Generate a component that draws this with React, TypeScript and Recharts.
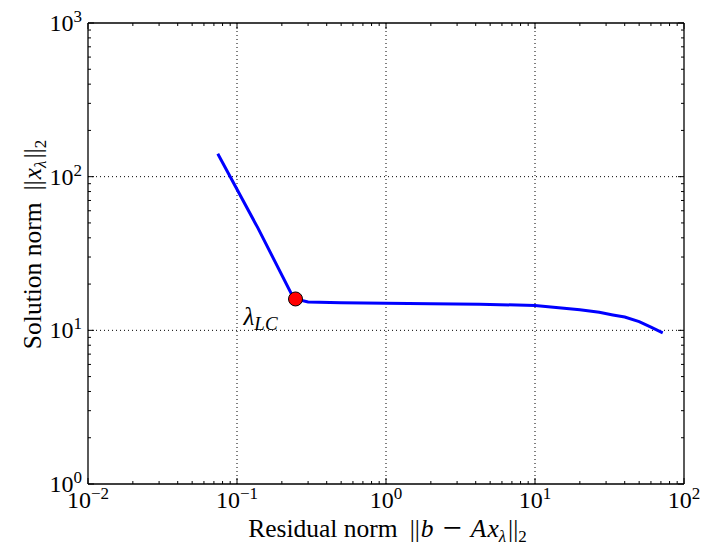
import React from "react";
import { LineChart, Line, XAxis, YAxis, ReferenceLine, ReferenceDot } from "recharts";

const residualNorm = [0.0743, 0.138, 0.231, 0.247, 0.3, 0.5, 1, 2, 4.25, 10, 20, 27, 33.3, 40, 50, 60, 72];
const solutionNorm = [141, 46.4, 17.4, 16.0, 15.3, 15.1, 15.0, 14.9, 14.8, 14.5, 13.6, 13.1, 12.6, 12.2, 11.4, 10.5, 9.64];
const cornerPoint = { r: 0.247, s: 16.0 };

const majorX = [0.01, 0.1, 1, 10, 100];
const majorY = [1, 10, 100, 1000];
const xExp = ["−2", "−1", "0", "1", "2"];
const yExp = ["0", "1", "2", "3"];

const minorMult = [2, 3, 4, 5, 6, 7, 8, 9];
const buildTicks = (majors: number[]) => {
  const out: number[] = [];
  majors.forEach((m, i) => {
    out.push(m);
    if (i < majors.length - 1) minorMult.forEach((k) => out.push(m * k));
  });
  return out;
};
const xTicks = buildTicks(majorX);
const yTicks = buildTicks(majorY);

const data = residualNorm.map((r, i) => ({ r, s: solutionNorm[i] }));

const FONT = "'Liberation Serif', 'Times New Roman', serif";

const isMajor = (v: number) => Math.abs(Math.log10(v) - Math.round(Math.log10(v))) < 1e-6;
const majorIndex = (v: number, majors: number[]) =>
  majors.findIndex((m) => Math.abs(Math.log10(m) - Math.log10(v)) < 1e-6);

const BottomTick = (props: any) => {
  const { x, y, payload } = props;
  const v = payload.value;
  const major = isMajor(v);
  const len = major ? 6 : 3;
  const idx = majorIndex(v, majorX);
  return (
    <g>
      <line x1={x} y1={y} x2={x} y2={y - len} stroke="#000" strokeWidth={1} />
      {major && idx >= 0 && (
        <text x={x} y={y + 24} textAnchor="middle" fontFamily={FONT} fontSize={24} fill="#000">
          <tspan>10</tspan>
          <tspan dy={-9} fontSize={17}>{xExp[idx]}</tspan>
        </text>
      )}
    </g>
  );
};

const TopTick = (props: any) => {
  const { x, y, payload } = props;
  const len = isMajor(payload.value) ? 6 : 3;
  return <line x1={x} y1={y} x2={x} y2={y + len} stroke="#000" strokeWidth={1} />;
};

const LeftTick = (props: any) => {
  const { x, y, payload } = props;
  const v = payload.value;
  const major = isMajor(v);
  const len = major ? 6 : 3;
  const idx = majorIndex(v, majorY);
  return (
    <g>
      <line x1={x} y1={y} x2={x + len} y2={y} stroke="#000" strokeWidth={1} />
      {major && idx >= 0 && (
        <text x={x - 6} y={y + 8} textAnchor="end" fontFamily={FONT} fontSize={24} fill="#000">
          <tspan>10</tspan>
          <tspan dy={-9} fontSize={17}>{yExp[idx]}</tspan>
        </text>
      )}
    </g>
  );
};

const RightTick = (props: any) => {
  const { x, y, payload } = props;
  const len = isMajor(payload.value) ? 6 : 3;
  return <line x1={x} y1={y} x2={x - len} y2={y} stroke="#000" strokeWidth={1} />;
};

const XTitle = (props: any) => {
  const vb = props.viewBox || { x: 88, y: 484, width: 596, height: 63 };
  const cx = vb.x + vb.width / 2 + 1.5;
  return (
    <text x={cx} y={vb.y + 53} textAnchor="middle" fontFamily={FONT} fontSize={25.5} fill="#000">
      <tspan>Residual norm</tspan>
      <tspan dx={12}>||</tspan>
      <tspan dx={1} fontStyle="italic">b</tspan>
      <tspan dx={9} dy={2} fontSize={34}>−</tspan>
      <tspan dx={9} dy={-2} fontStyle="italic">A</tspan>
      <tspan dx={1} fontStyle="italic">x</tspan>
      <tspan fontStyle="italic" fontSize={17} dy={5}>λ</tspan>
      <tspan dx={2} dy={-5}>||</tspan>
      <tspan fontSize={17} dy={5}>2</tspan>
    </text>
  );
};

const YTitle = (props: any) => {
  const vb = props.viewBox || { x: 0, y: 23, width: 88, height: 461 };
  const cy = vb.y + vb.height / 2 - 9;
  const bx = 41;
  return (
    <text x={bx} y={cy} textAnchor="middle" transform={`rotate(-90 ${bx} ${cy})`} fontFamily={FONT} fontSize={25.5} fill="#000">
      <tspan>Solution norm</tspan>
      <tspan dx={12}>||</tspan>
      <tspan dx={1} fontStyle="italic">x</tspan>
      <tspan fontStyle="italic" fontSize={17} dy={5}>λ</tspan>
      <tspan dx={2} dy={-5}>||</tspan>
      <tspan fontSize={17} dy={5}>2</tspan>
    </text>
  );
};

const CornerLabel = (props: any) => {
  const vb = props.viewBox || { x: 0, y: 0, width: 0, height: 0 };
  const cx = vb.x + vb.width / 2;
  const cy = vb.y + vb.height / 2;
  return (
    <text x={cx - 52} y={cy + 26} fontFamily={FONT} fontSize={25} fill="#000">
      <tspan fontStyle="italic">λ</tspan>
      <tspan fontStyle="italic" fontSize={19} dy={5}>LC</tspan>
    </text>
  );
};

export default function App() {
  return (
    <div style={{ position: "absolute", left: 0, top: 0, width: 702, height: 547, background: "#fff" }}>
      <LineChart width={702} height={547} data={data} margin={{ top: 22, right: 17, bottom: 0, left: 0 }}>
        <XAxis
          xAxisId="b"
          dataKey="r"
          type="number"
          scale="log"
          domain={[0.01, 100]}
          ticks={xTicks}
          interval={0}
          allowDataOverflow
          height={63}
          tickSize={0}
          tickMargin={0}
          tickLine={false}
          axisLine={{ stroke: "#000", strokeWidth: 1.3 }}
          tick={<BottomTick />}
          label={{ content: <XTitle /> }}
        />
        <XAxis
          xAxisId="t"
          orientation="top"
          dataKey="r"
          type="number"
          scale="log"
          domain={[0.01, 100]}
          ticks={xTicks}
          interval={0}
          allowDataOverflow
          height={1}
          tickSize={0}
          tickMargin={0}
          tickLine={false}
          axisLine={{ stroke: "#000", strokeWidth: 1.3 }}
          tick={<TopTick />}
        />
        <YAxis
          yAxisId="l"
          dataKey="s"
          type="number"
          scale="log"
          domain={[1, 1000]}
          ticks={yTicks}
          interval={0}
          allowDataOverflow
          width={88}
          tickSize={0}
          tickMargin={0}
          tickLine={false}
          axisLine={{ stroke: "#000", strokeWidth: 1.3 }}
          tick={<LeftTick />}
          label={{ content: <YTitle /> }}
        />
        <YAxis
          yAxisId="r"
          orientation="right"
          dataKey="s"
          type="number"
          scale="log"
          domain={[1, 1000]}
          ticks={yTicks}
          interval={0}
          allowDataOverflow
          width={1}
          tickSize={0}
          tickMargin={0}
          tickLine={false}
          axisLine={{ stroke: "#000", strokeWidth: 1.3 }}
          tick={<RightTick />}
        />
        {majorX.slice(1, -1).map((v) => (
          <ReferenceLine key={"gx" + v} xAxisId="b" yAxisId="l" x={v} stroke="#000" strokeWidth={1} strokeDasharray="1 3" />
        ))}
        {majorY.slice(1, -1).map((v) => (
          <ReferenceLine key={"gy" + v} xAxisId="b" yAxisId="l" y={v} stroke="#000" strokeWidth={1} strokeDasharray="1 3" />
        ))}
        <Line
          xAxisId="b"
          yAxisId="l"
          dataKey="s"
          type="linear"
          stroke="#0000ff"
          strokeWidth={3}
          dot={false}
          activeDot={false}
          isAnimationActive={false}
        />
        <ReferenceDot
          xAxisId="b"
          yAxisId="l"
          x={cornerPoint.r}
          y={cornerPoint.s}
          r={7}
          fill="#ff0000"
          stroke="#000"
          strokeWidth={1}
          label={{ content: <CornerLabel /> }}
        />
      </LineChart>
    </div>
  );
}
